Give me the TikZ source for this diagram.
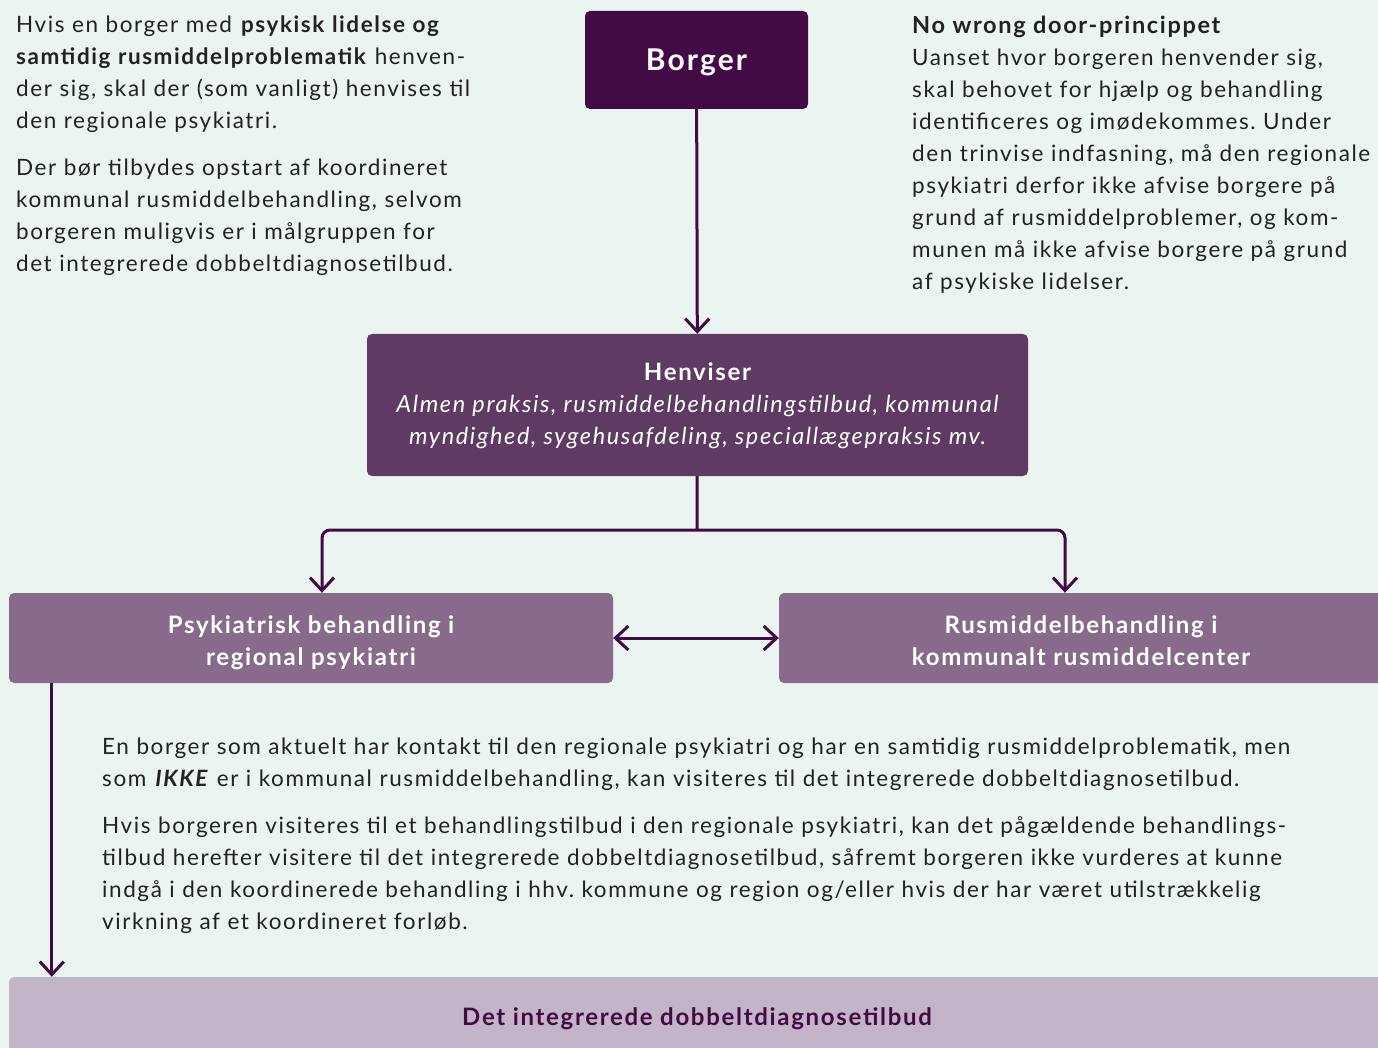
\documentclass[tikz,border=0pt]{standalone}
\usepackage{fontspec}
\setmainfont{Lato}[LetterSpace=7]
\usepackage{xcolor}
\usetikzlibrary{arrows.meta,positioning}
\frenchspacing

\definecolor{baggrund}{HTML}{EBF4F0}
\definecolor{moerklilla}{HTML}{430B45}
\definecolor{lilla}{HTML}{5F3B64}
\definecolor{lyslilla}{HTML}{886B8A}
\definecolor{blaalilla}{HTML}{C3B4C7}
\definecolor{tekst}{HTML}{222222}

\begin{document}
\begin{tikzpicture}[x=1pt,y=-1pt,
	boks/.style={rectangle,rounded corners=5pt,inner sep=0pt,text=white,align=center,
		font=\bfseries\fontsize{24}{32}\selectfont},
	broed/.style={anchor=base west,inner sep=0pt,align=left,text=tekst,
		font=\fontsize{22.5}{32}\selectfont},
	linje/.style={draw=moerklilla,line width=3pt},
	pil/.style={linje,-{Straight Barb[length=13pt,width=24pt]}},
	dobbeltpil/.style={linje,{Straight Barb[length=13pt,width=24pt]}-{Straight Barb[length=13pt,width=24pt]}}]
	% baggrund og ramme
	\fill[baggrund] (0,0) rectangle (1378,1048);
	\useasboundingbox (0,0) rectangle (1378,1048);
	% kasser
	\node[boks,fill=moerklilla,minimum width=223pt,minimum height=98pt,text height=22pt,text depth=0pt,
		font=\bfseries\fontsize{30}{36}\selectfont] (borger) at (696.5,60) {Borger};
	\node[boks,fill=lilla,minimum width=661pt,minimum height=142pt,text height=80pt,text depth=2pt] (henviser) at (697.5,405)
		{Henviser\\ \normalfont\itshape\fontsize{23.5}{32}\selectfont Almen praksis, rusmiddelbehandlingstilbud, kommunal\\
		\normalfont\itshape\fontsize{23.5}{32}\selectfont myndighed, sygehusafdeling, speciallægepraksis mv.};
	\node[boks,fill=lyslilla,minimum width=604pt,minimum height=90pt,text height=56pt,text depth=2pt] (psyk) at (311,638)
		{Psykiatrisk behandling i\\ regional psykiatri};
	\node[boks,fill=lyslilla,minimum width=604pt,minimum height=90pt,text height=56pt,text depth=2pt] (rus) at (1081,638)
		{Rusmiddelbehandling i\\ kommunalt rusmiddelcenter};
	\node[boks,fill=blaalilla,text=moerklilla,minimum width=1376pt,minimum height=80pt,text height=16pt,text depth=0pt] (dobbelt) at (697,1017)
		{Det integrerede dobbeltdiagnosetilbud};
	% tekster
	\node[broed,text width=540pt] (venstretekst) at (16,33)
		{Hvis en borger med \textbf{psykisk lidelse og}\\
		\textbf{samtidig rusmiddelproblematik} henven-\\
		der sig, skal der (som vanligt) henvises til\\
		den regionale psykiatri.\\[15pt]
		Der bør tilbydes opstart af koordineret\\
		kommunal rusmiddelbehandling, selvom\\
		borgeren muligvis er i målgruppen for\\
		det integrerede dobbeltdiagnosetilbud.};
	\node[broed,text width=600pt] (hoejretekst) at (912,34)
		{\textbf{\fontsize{23.5}{32}\selectfont No wrong door-princippet}\\
		Uanset hvor borgeren henvender sig,\\
		skal behovet for hjælp og behandling\\
		identificeres og imødekommes. Under\\
		den trinvise indfasning, må den regionale\\
		psykiatri derfor ikke afvise borgere på\\
		grund af rusmiddelproblemer, og kom-\\
		munen må ikke afvise borgere på grund\\
		af psykiske lidelser.};
	\node[broed,text width=1300pt] (nedretekst) at (102,754)
		{En borger som aktuelt har kontakt til den regionale psykiatri og har en samtidig rusmiddelproblematik, men\\
		som \textbf{\textit{IKKE}} er i kommunal rusmiddelbehandling, kan visiteres til det integrerede dobbeltdiagnosetilbud.\\[15pt]
		Hvis borgeren visiteres til et behandlingstilbud i den regionale psykiatri, kan det pågældende behandlings-\\
		tilbud herefter visitere til det integrerede dobbeltdiagnosetilbud, såfremt borgeren ikke vurderes at kunne\\
		indgå i den koordinerede behandling i hhv. kommune og region og/eller hvis der har været utilstrækkelig\\
		virkning af et koordineret forløb.};
	% forbindelser
	\coordinate (deling) at (697,530);
	\draw[pil] (borger) -- (henviser);
	\draw[linje] (henviser) -- (deling);
	\draw[pil,rounded corners=8pt] (deling) -| ([xshift=11pt]psyk.north);
	\draw[pil,rounded corners=8pt] (deling) -| ([xshift=-16pt]rus.north);
	\draw[dobbeltpil] (psyk) -- (rus);
	\draw[pil] ([xshift=43pt]psyk.south west) -- ([xshift=43pt]psyk.south west |- dobbelt.north);
\end{tikzpicture}
\end{document}
